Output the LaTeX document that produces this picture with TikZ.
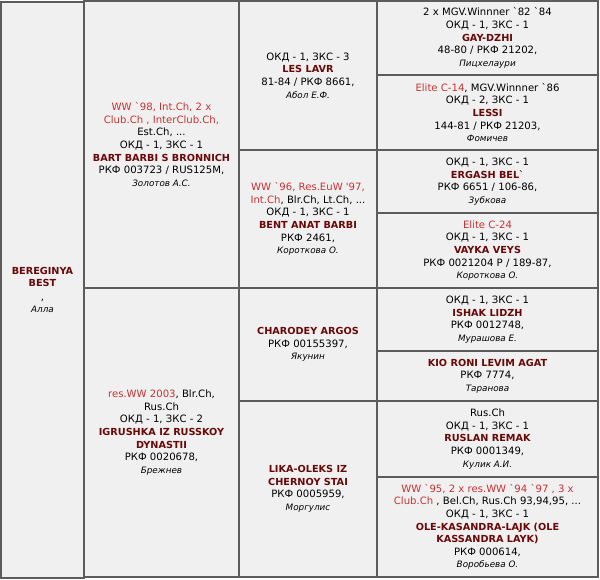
\documentclass[tikz,border=0pt]{standalone}
\usepackage{fontspec}
\setmainfont{DejaVu Sans}
\definecolor{cellgray}{HTML}{F0F0F0}
\definecolor{gridgray}{HTML}{5C5C5C}
\definecolor{namered}{HTML}{6A0808}
\definecolor{titlered}{HTML}{C83232}
\newcommand\dogname[1]{{\fontsize{9.7}{12.6}\selectfont\bfseries\color{namered}#1}}
\newcommand\titl[1]{{\color{titlered}#1}}
\newcommand\ownr[1]{{\fontsize{8.8}{12.6}\selectfont\itshape #1}}
\newcommand\bq{\textasciigrave}
\begin{document}
\begin{tikzpicture}[x=1pt,y=-1pt,%
% common options for the table cells:
cell/.style = {draw=gridgray, line width=1.6pt, fill=cellgray, align=center,
            inner sep=0, font=\fontsize{10.1}{12.6}\selectfont}]
\useasboundingbox (0,0) rectangle (600,579);
% generation 0
\node[cell, minimum width=83pt, minimum height=576pt] (G0) at (42.5,290) {\dogname{BEREGINYA}\\\dogname{BEST}\\[1pt],\\\ownr{Алла}};
% generation 1
\node[cell, minimum width=155pt, minimum height=287pt] (S1) at (161.5,144.5) {\titl{WW \bq98, Int.Ch, 2 x}\\\titl{Club.Ch , InterClub.Ch,}\\Est.Ch, ...\\ОКД - 1, ЗКС - 1\\\dogname{BART BARBI S BRONNICH}\\РКФ 003723 / RUS125M,\\\ownr{Золотов А.С.}};
\node[cell, minimum width=155pt, minimum height=289pt] (D1) at (161.5,432.5) {\titl{res.WW 2003}, Blr.Ch,\\Rus.Ch\\ОКД - 1, ЗКС - 2\\\dogname{IGRUSHKA IZ RUSSKOY}\\\dogname{DYNASTII}\\РКФ 0020678,\\\ownr{Брежнев}};
% generation 2
\node[cell, minimum width=138pt, minimum height=149pt] (SS2) at (308,75.5) {ОКД - 1, ЗКС - 3\\\dogname{LES LAVR}\\81-84 / РКФ 8661,\\\ownr{Абол Е.Ф.}};
\node[cell, minimum width=138pt, minimum height=138pt] (SD2) at (308,219) {\titl{WW \bq96, Res.EuW \textquotesingle97,}\\\titl{Int.Ch}, Blr.Ch, Lt.Ch, ...\\ОКД - 1, ЗКС - 1\\\dogname{BENT ANAT BARBI}\\РКФ 2461,\\\ownr{Короткова О.}};
\node[cell, minimum width=138pt, minimum height=113pt] (DS2) at (308,344.5) {\dogname{CHARODEY ARGOS}\\РКФ 00155397,\\\ownr{Якунин}};
\node[cell, minimum width=138pt, minimum height=176pt] (DD2) at (308,489) {\dogname{LIKA-OLEKS IZ}\\\dogname{CHERNOY STAI}\\РКФ 0005959,\\\ownr{Моргулис}};
% generation 3
\node[cell, minimum width=221pt, minimum height=74pt] (SSS3) at (487.5,38) {2 x MGV.Winnner \bq82 \bq84\\ОКД - 1, ЗКС - 1\\\dogname{GAY-DZHI}\\48-80 / РКФ 21202,\\\ownr{Пицхелаури}};
\node[cell, minimum width=221pt, minimum height=75pt] (SSD3) at (487.5,112.5) {\titl{Elite C-14}, MGV.Winnner \bq86\\ОКД - 2, ЗКС - 1\\\dogname{LESSI}\\144-81 / РКФ 21203,\\\ownr{Фомичев}};
\node[cell, minimum width=221pt, minimum height=63pt] (SDS3) at (487.5,181.5) {ОКД - 1, ЗКС - 1\\\dogname{ERGASH BEL\bq}\\РКФ 6651 / 106-86,\\\ownr{Зубкова}};
\node[cell, minimum width=221pt, minimum height=75pt] (SDD3) at (487.5,250.5) {\titl{Elite C-24}\\ОКД - 1, ЗКС - 1\\\dogname{VAYKA VEYS}\\РКФ 0021204 P / 189-87,\\\ownr{Короткова О.}};
\node[cell, minimum width=221pt, minimum height=63pt] (DSS3) at (487.5,319.5) {ОКД - 1, ЗКС - 1\\\dogname{ISHAK LIDZH}\\РКФ 0012748,\\\ownr{Мурашова Е.}};
\node[cell, minimum width=221pt, minimum height=50pt] (DSD3) at (487.5,376) {\dogname{KIO RONI LEVIM AGAT}\\РКФ 7774,\\\ownr{Таранова}};
\node[cell, minimum width=221pt, minimum height=76pt] (DDS3) at (487.5,439) {Rus.Ch\\ОКД - 1, ЗКС - 1\\\dogname{RUSLAN REMAK}\\РКФ 0001349,\\\ownr{Кулик А.И.}};
\node[cell, minimum width=221pt, minimum height=100pt] (DDD3) at (487.5,527) {\titl{WW \bq95, 2 x res.WW \bq94 \bq97 , 3 x}\\\titl{Club.Ch} , Bel.Ch, Rus.Ch 93,94,95, ...\\ОКД - 1, ЗКС - 1\\\dogname{OLE-KASANDRA-LAJK (OLE}\\\dogname{KASSANDRA LAYK)}\\РКФ 000614,\\\ownr{Воробьева О.}};
\end{tikzpicture}
\end{document}
